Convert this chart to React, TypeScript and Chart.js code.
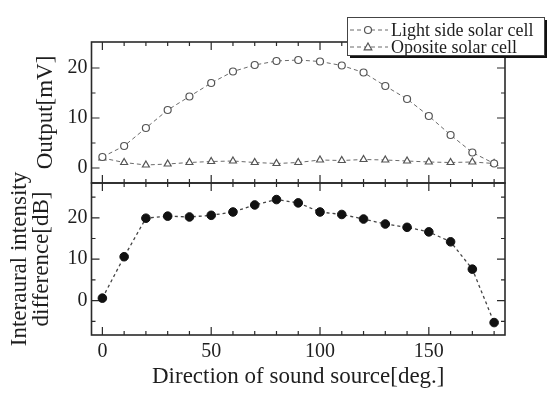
import React, { useEffect, useRef } from 'react';
import { Chart, registerables } from 'chart.js';

Chart.register(...registerables);

// ---- data ----
const directions = [0, 10, 20, 30, 40, 50, 60, 70, 80, 90, 100, 110, 120, 130, 140, 150, 160, 170, 180];
const lightSide = [2.2, 4.4, 8.0, 11.6, 14.3, 17.0, 19.3, 20.6, 21.4, 21.6, 21.3, 20.5, 19.1, 16.4, 13.8, 10.4, 6.6, 3.1, 0.9];
const opposite = [2.0, 1.1, 0.6, 0.8, 1.1, 1.3, 1.4, 1.1, 0.9, 1.1, 1.6, 1.5, 1.7, 1.6, 1.4, 1.2, 1.1, 1.2, 0.9];
const iid = [0.6, 10.6, 19.9, 20.4, 20.2, 20.6, 21.4, 23.1, 24.4, 23.6, 21.4, 20.8, 19.7, 18.5, 17.7, 16.6, 14.2, 7.6, -5.3];
const seriesLabels = ['Light side solar cell', 'Oposite solar cell'];
const xTickLabels = [0, 50, 100, 150];
const outputTicks = [0, 10, 20];
const iidTicks = [0, 10, 20];
const xTickMarks = [0, 10, 20, 30, 40, 50, 60, 70, 80, 90, 100, 110, 120, 130, 140, 150, 160, 170, 180];
const outputTickMarks = [0, 5, 10, 15, 20];
const iidTickMarks = [-5, 0, 5, 10, 15, 20, 25];

const FONT = '"Liberation Serif", "Times New Roman", serif';
const TEXT = '#1e1e1e';
const FRAME = '#2a2a2a';

const W = 548;
const H = 394;
const PLOT_LEFT = 91.5;
const PLOT_RIGHT = 505;
const TOP_TOP = 42;
const MID = 183;
const BOT_BOTTOM = 335;

function framePlugin(yMarks: number[], yMajor: number[]) {
  return {
    id: 'frameTicks',
    beforeDatasetsDraw(chart: any) {
      const { ctx, chartArea: a, scales } = chart;
      const xs = scales.x;
      const ys = scales.y;
      ctx.save();
      ctx.strokeStyle = FRAME;
      ctx.lineWidth = 1.6;
      ctx.strokeRect(a.left, a.top, a.right - a.left, a.bottom - a.top);
      ctx.lineWidth = 1.2;
      ctx.beginPath();
      for (const v of xTickMarks) {
        const px = xs.getPixelForValue(v);
        const len = xTickLabels.includes(v) ? 8 : 4;
        ctx.moveTo(px, a.top);
        ctx.lineTo(px, a.top + len);
        ctx.moveTo(px, a.bottom);
        ctx.lineTo(px, a.bottom - len);
      }
      for (const v of yMarks) {
        const py = ys.getPixelForValue(v);
        const len = yMajor.includes(v) ? 8 : 4;
        ctx.moveTo(a.left, py);
        ctx.lineTo(a.left + len, py);
        ctx.moveTo(a.right, py);
        ctx.lineTo(a.right - len, py);
      }
      ctx.stroke();
      ctx.restore();
    },
  };
}

const legendPlugin = {
  id: 'boxLegend',
  afterDraw(chart: any) {
    const ctx = chart.ctx;
    const bx = 347;
    const by = 17;
    const bw = 197;
    const bh = 38;
    ctx.save();
    ctx.fillStyle = '#111';
    ctx.fillRect(bx + 3, by + 3, bw, bh);
    ctx.fillStyle = '#fff';
    ctx.fillRect(bx, by, bw, bh);
    ctx.strokeStyle = '#444';
    ctx.lineWidth = 1;
    ctx.strokeRect(bx + 0.5, by + 0.5, bw, bh);
    chart.data.datasets.forEach((ds: any, i: number) => {
      const cy = by + 13 + i * 17;
      ctx.setLineDash(ds.borderDash || []);
      ctx.strokeStyle = ds.borderColor;
      ctx.lineWidth = 1;
      ctx.beginPath();
      ctx.moveTo(350, cy);
      ctx.lineTo(388, cy);
      ctx.stroke();
      ctx.setLineDash([]);
      const mx = 368;
      const r = ds.pointRadius;
      ctx.fillStyle = '#fff';
      ctx.strokeStyle = ds.pointBorderColor;
      ctx.lineWidth = 1.2;
      ctx.beginPath();
      if (ds.pointStyle === 'triangle') {
        ctx.moveTo(mx, cy - r);
        ctx.lineTo(mx + r * 0.95, cy + r * 0.7);
        ctx.lineTo(mx - r * 0.95, cy + r * 0.7);
        ctx.closePath();
      } else {
        ctx.arc(mx, cy, r, 0, Math.PI * 2);
      }
      ctx.fill();
      ctx.stroke();
      ctx.fillStyle = TEXT;
      ctx.font = `18px ${FONT}`;
      ctx.textBaseline = 'middle';
      ctx.textAlign = 'left';
      ctx.fillText(ds.label, 391, cy + 1);
    });
    ctx.restore();
  },
};

function pts(ys: number[]) {
  return directions.map((d, i) => ({ x: d, y: ys[i] }));
}

function setTicks(values: number[]) {
  return (scale: any) => {
    scale.ticks = values.map((v) => ({ value: v }));
  };
}

export default function App() {
  const topRef = useRef<HTMLCanvasElement>(null);
  const botRef = useRef<HTMLCanvasElement>(null);

  useEffect(() => {
    const topChart = new Chart(topRef.current as HTMLCanvasElement, {
      type: 'line',
      data: {
        datasets: [
          {
            label: seriesLabels[0],
            data: pts(lightSide),
            borderColor: '#6a6a6a',
            borderWidth: 1,
            borderDash: [4, 3],
            pointStyle: 'circle',
            pointRadius: 3.5,
            pointBorderColor: '#555',
            pointBackgroundColor: '#fff',
            pointBorderWidth: 1.2,
          } as any,
          {
            label: seriesLabels[1],
            data: pts(opposite),
            borderColor: '#6a6a6a',
            borderWidth: 1,
            borderDash: [4, 3],
            pointStyle: 'triangle',
            pointRadius: 4,
            pointBorderColor: '#555',
            pointBackgroundColor: '#fff',
            pointBorderWidth: 1.2,
          } as any,
        ],
      },
      options: {
        animation: false,
        responsive: false,
        devicePixelRatio: 1,
        layout: { padding: { top: TOP_TOP, right: W - PLOT_RIGHT, bottom: H - MID, left: 0 } },
        plugins: { legend: { display: false }, tooltip: { enabled: false } },
        scales: {
          x: {
            type: 'linear',
            display: false,
            min: -5,
            max: 185,
          },
          y: {
            type: 'linear',
            min: -3,
            max: 25.2,
            afterBuildTicks: setTicks(outputTicks),
            afterFit: (s: any) => {
              s.width = PLOT_LEFT;
            },
            grid: { display: false, drawTicks: false },
            border: { display: false },
            ticks: { color: TEXT, font: { family: FONT, size: 20 }, padding: 4 },
            title: {
              display: true,
              text: 'Output[mV]',
              color: TEXT,
              font: { family: FONT, size: 23, lineHeight: 1 },
              padding: { top: 34, bottom: 0 },
            },
          },
        },
      } as any,
      plugins: [framePlugin(outputTickMarks, outputTicks), legendPlugin],
    });

    const botChart = new Chart(botRef.current as HTMLCanvasElement, {
      type: 'line',
      data: {
        datasets: [
          {
            label: 'Interaural intensity difference',
            data: pts(iid),
            borderColor: '#444',
            borderWidth: 1.3,
            borderDash: [3, 3],
            pointStyle: 'circle',
            pointRadius: 4.3,
            pointBorderColor: '#111',
            pointBackgroundColor: '#111',
            pointBorderWidth: 1,
          } as any,
        ],
      },
      options: {
        animation: false,
        responsive: false,
        devicePixelRatio: 1,
        layout: { padding: { top: MID, right: W - PLOT_RIGHT, bottom: 0, left: 0 } },
        plugins: { legend: { display: false }, tooltip: { enabled: false } },
        scales: {
          x: {
            type: 'linear',
            min: -5,
            max: 185,
            afterBuildTicks: setTicks(xTickLabels),
            afterFit: (s: any) => {
              s.height = H - BOT_BOTTOM;
            },
            grid: { display: false, drawTicks: false },
            border: { display: false },
            ticks: { color: TEXT, font: { family: FONT, size: 20 }, padding: 5, maxRotation: 0 },
            title: {
              display: true,
              text: 'Direction of sound source[deg.]',
              color: TEXT,
              font: { family: FONT, size: 23, lineHeight: 1 },
              padding: { top: 0, bottom: 6 },
            },
          },
          y: {
            type: 'linear',
            min: -8.3,
            max: 28.4,
            afterBuildTicks: setTicks(iidTicks),
            afterFit: (s: any) => {
              s.width = PLOT_LEFT;
            },
            grid: { display: false, drawTicks: false },
            border: { display: false },
            ticks: { color: TEXT, font: { family: FONT, size: 20 }, padding: 4 },
            title: {
              display: true,
              text: ['Interaural intensity', 'difference[dB]'],
              color: TEXT,
              font: { family: FONT, size: 23, lineHeight: 0.96 },
              padding: { top: 9, bottom: 0 },
            },
          },
        },
      } as any,
      plugins: [framePlugin(iidTickMarks, iidTicks)],
    });

    return () => {
      topChart.destroy();
      botChart.destroy();
    };
  }, []);

  const canvasStyle: React.CSSProperties = { position: 'absolute', left: 0, top: 0, width: W, height: H };
  return (
    <div style={{ position: 'absolute', left: 0, top: 0, width: W, height: H, background: '#fff' }}>
      <canvas ref={botRef} width={W} height={H} style={canvasStyle} />
      <canvas ref={topRef} width={W} height={H} style={canvasStyle} />
    </div>
  );
}
